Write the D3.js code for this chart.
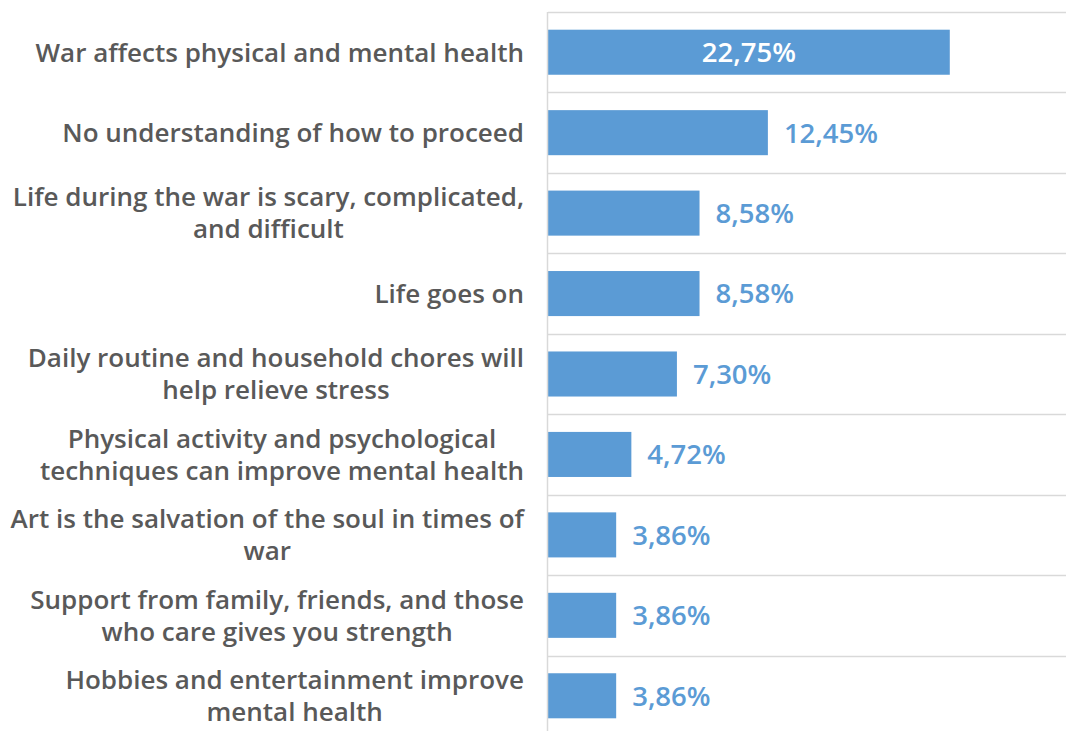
<!DOCTYPE html>
<html>
<head>
<meta charset="utf-8">
<script src="https://cdn.jsdelivr.net/npm/d3@7"></script>
<style>
  html, body { margin: 0; padding: 0; background: #fff; }
  svg { display: block; }
  .cat { font-family: "Open Sans", "Liberation Sans", sans-serif; font-weight: 600; fill: #595959; }
  .val { font-family: "Open Sans", "Liberation Sans", sans-serif; font-weight: 600; }
</style>
</head>
<body>
<svg id="chart" width="1066" height="731"></svg>
<script>
// Category labels (each entry is the list of lines shown for that row)
const categories = [
  ["War affects physical and mental health"],
  ["No understanding of how to proceed"],
  ["Life during the war is scary, complicated,", "and difficult"],
  ["Life goes on"],
  ["Daily routine and household chores will", "help relieve stress"],
  ["Physical activity and psychological", "techniques can improve mental health"],
  ["Art is the salvation of the soul in times of", "war"],
  ["Support from family, friends, and those", "who care gives you strength"],
  ["Hobbies and entertainment improve", "mental health"]
];
// Share of responses, percent
const values = [22.75, 12.45, 8.58, 8.58, 7.30, 4.72, 3.86, 3.86, 3.86];
const valueLabels = ["22,75%", "12,45%", "8,58%", "8,58%", "7,30%", "4,72%", "3,86%", "3,86%", "3,86%"];

const svg = d3.select("#chart");
const plot = { left: 548, right: 1066, top: 12, bottom: 736 };
const barColor = "#5B9BD5";

const y = d3.scaleBand()
  .domain(d3.range(categories.length))
  .range([plot.top, plot.bottom])
  .paddingInner(0.44)
  .paddingOuter(0.22);

const x = d3.scaleLinear()
  .domain([0, 29.33])
  .range([plot.left, plot.right]);

const step = y.step();

// horizontal separators between rows
svg.append("g")
  .selectAll("line")
  .data(d3.range(categories.length + 1))
  .join("line")
  .attr("x1", plot.left)
  .attr("x2", plot.right)
  .attr("y1", i => Math.round(plot.top + i * step) + 0.5)
  .attr("y2", i => Math.round(plot.top + i * step) + 0.5)
  .attr("stroke", "#d9d9d9")
  .attr("stroke-width", 1.5);

// bars
svg.append("g")
  .selectAll("rect")
  .data(values)
  .join("rect")
  .attr("x", x(0))
  .attr("y", (d, i) => y(i))
  .attr("width", d => x(d) - x(0))
  .attr("height", y.bandwidth())
  .attr("fill", barColor);

// vertical axis line
svg.append("line")
  .attr("x1", plot.left - 0.5).attr("x2", plot.left - 0.5)
  .attr("y1", plot.top).attr("y2", plot.bottom)
  .attr("stroke", "#d9d9d9")
  .attr("stroke-width", 1.5);

// value labels: inside the longest bar, outside the others
svg.append("g")
  .selectAll("text")
  .data(values)
  .join("text")
  .attr("class", "val")
  .attr("font-size", 27.5)
  .attr("x", (d, i) => i === 0 ? (x(0) + x(d)) / 2 : x(d) + 16)
  .attr("y", (d, i) => y(i) + y.bandwidth() / 2)
  .attr("dy", "0.36em")
  .attr("text-anchor", (d, i) => i === 0 ? "middle" : "start")
  .attr("fill", (d, i) => i === 0 ? "#ffffff" : barColor)
  .text((d, i) => valueLabels[i]);

// category labels: centred line blocks, right-aligned to the axis
const labelRight = 524;
const lineH = 32;
const catG = svg.append("g");
categories.forEach((lines, i) => {
  const cy = y(i) + y.bandwidth() / 2;
  const t = catG.append("text")
    .attr("class", "cat")
    .attr("font-size", 26)
    .attr("text-anchor", "middle");
  lines.forEach((ln, k) => {
    t.append("tspan")
      .attr("y", cy + (k - (lines.length - 1) / 2) * lineH)
      .attr("dy", "0.36em")
      .text(ln);
  });
  let w = 0;
  t.selectAll("tspan").each(function () { w = Math.max(w, this.getComputedTextLength()); });
  t.selectAll("tspan").attr("x", labelRight - w / 2);
});
</script>
</body>
</html>
